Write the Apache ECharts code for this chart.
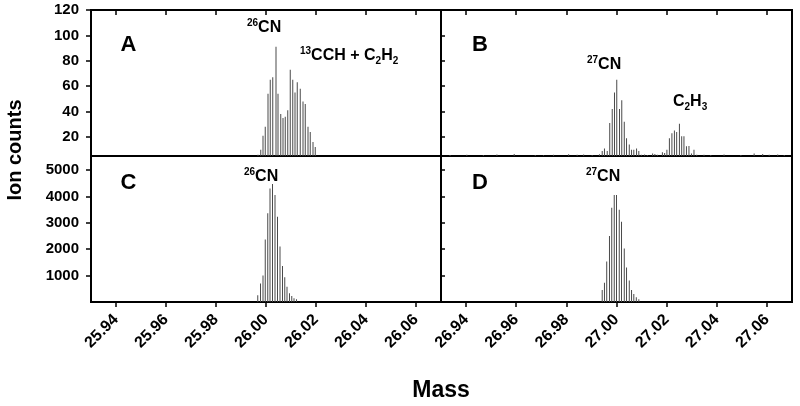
<!DOCTYPE html>
<html><head><meta charset="utf-8">
<script src="https://cdn.jsdelivr.net/npm/echarts@6/dist/echarts.min.js"></script>
<style>html,body{margin:0;padding:0;background:#fff}#c{width:800px;height:406px}</style>
</head><body><div id="c"></div>
<script>
// ---- data ----
const ticksX26 = [25.94, 25.96, 25.98, 26.00, 26.02, 26.04, 26.06];
const ticksX27 = [26.94, 26.96, 26.98, 27.00, 27.02, 27.04, 27.06];
const ticksYTop = [20, 40, 60, 80, 100, 120];
const ticksYBottom = [1000, 2000, 3000, 4000, 5000];

// Panel A: 26CN + 13CCH + C2H2 (low)
const massA = [25.9968, 25.9979, 25.9988, 25.9997, 26.0008, 26.0017, 26.0027, 26.0040, 26.0048, 26.0059, 26.0068, 26.0077,
  26.0087, 26.0097, 26.0107, 26.0116, 26.0125, 26.0137, 26.0148, 26.0157, 26.0168, 26.0177, 26.0188, 26.0197];
const countsA = [6, 10, 21, 28, 54, 65, 67, 91, 54, 38, 35, 36, 41, 73, 65, 55, 63, 58, 48, 46, 28, 24, 16, 12];

// Panel B: 27CN and C2H3 (low) plus baseline noise
const massB_CN = [26.9932, 26.9943, 26.9952, 26.9963, 26.9973, 26.9983, 26.9992, 27.0001, 27.0012, 27.0021, 27.0031, 27.0040,
  27.0051, 27.0060, 27.0069, 27.0080, 27.0089, 27.0099];
const countsB_CN = [6.3, 9, 11, 9, 31, 42, 55, 65, 42, 49, 32, 19, 14, 10, 10, 11, 9, 6];
const massB_C2H3 = [27.0144, 27.0153, 27.0163, 27.0183, 27.0192, 27.0201, 27.0211, 27.0221, 27.0231, 27.0240, 27.0251, 27.0260,
  27.0269, 27.0279, 27.0289, 27.0299, 27.0309, 27.0320];
const countsB_C2H3 = [7, 6.5, 6, 8, 7.4, 10, 19, 23, 25, 24, 30.5, 20.6, 20.6, 12.6, 12.8, 7, 10, 6];
const massB_noise = [26.9336, 26.9403, 26.9469, 26.9523, 26.9592, 26.9676, 26.9709, 26.9749, 26.9809, 26.9843, 26.9869, 26.9903,
  27.0112, 27.0123, 27.0349, 27.0376, 27.0429, 27.0496, 27.0549, 27.0583, 27.0609, 27.0643, 27.0669];
const countsB_noise = [5.8, 6, 5.7, 6.2, 6.5, 5.8, 5.6, 6, 6.3, 5.9, 6.1, 5.7, 6.2, 5.8, 6, 5.7, 6.2, 5.8, 7, 6.5, 6, 6.2, 5.7];

// Panel C: 26CN (high)
const massC = [25.9967, 25.9978, 25.9988, 25.9997, 26.0007, 26.0016, 26.0026, 26.0036, 26.0046, 26.0056, 26.0066, 26.0075,
  26.0084, 26.0094, 26.0103, 26.0112, 26.0122];
const countsC = [260, 700, 1000, 2370, 3360, 4300, 4470, 4050, 3230, 2100, 1360, 940, 580, 330, 230, 140, 100];

// Panel D: 27CN (high)
const massD = [26.9943, 26.9952, 26.9961, 26.9972, 26.9981, 26.9991, 27.0000, 27.0011, 27.0020, 27.0031, 27.0040, 27.0051,
  27.0060, 27.0069, 27.0079, 27.0089];
const countsD = [455, 730, 1530, 2500, 3570, 4050, 4050, 3490, 3040, 2030, 1310, 810, 455, 300, 180, 100];

// ---- chart ----
const FONT = '"Liberation Sans", Arial, sans-serif';
const pairs = (xs, ys) => xs.map((x, i) => [x, ys[i]]);
const dataB = pairs(massB_noise, countsB_noise).concat(pairs(massB_CN, countsB_CN), pairs(massB_C2H3, countsB_C2H3))
  .sort((a, b) => a[0] - b[0]);

const gridStyle = { show: true, borderColor: '#000', borderWidth: 2, backgroundColor: 'transparent' };
const tickLine = { color: '#000', width: 1.5 };

function xAxisCfg(gi, min, max, ticks, bottom) {
  return {
    type: 'value', gridIndex: gi, min: min, max: max,
    position: bottom ? 'bottom' : 'top',
    axisLine: { show: false },
    splitLine: { show: false },
    axisTick: { show: true, inside: !bottom, length: 5, lineStyle: tickLine, customValues: ticks },
    axisLabel: bottom ? {
      show: true, rotate: 45, margin: 15, customValues: ticks,
      formatter: v => Number(v).toFixed(2),
      color: '#000', fontFamily: FONT, fontWeight: 'bold', fontSize: 16
    } : { show: false }
  };
}
function yAxisCfg(gi, min, max, ticks, labels) {
  return {
    type: 'value', gridIndex: gi, min: min, max: max,
    axisLine: { show: false },
    splitLine: { show: false },
    axisTick: { show: true, inside: !labels, length: labels ? 5 : 4, lineStyle: tickLine, customValues: ticks },
    axisLabel: labels ? {
      show: true, margin: 12, customValues: ticks,
      formatter: v => String(Math.round(v)),
      color: '#000', fontFamily: FONT, fontWeight: 'bold', fontSize: 15
    } : { show: false }
  };
}
function barSeries(idx, data) {
  return {
    type: 'bar', xAxisIndex: idx, yAxisIndex: idx, data: data,
    barWidth: 1, itemStyle: { color: '#4a4a4a' }, clip: true, silent: true, animation: false
  };
}

const richStyles = {
  m: { fontFamily: FONT, fontWeight: 'bold', fontSize: 16, lineHeight: 20, fill: '#000', color: '#000' },
  sup: { fontFamily: FONT, fontWeight: 'bold', fontSize: 10, verticalAlign: 'top', fill: '#000', color: '#000' },
  sub: { fontFamily: FONT, fontWeight: 'bold', fontSize: 10, verticalAlign: 'bottom', fill: '#000', color: '#000' }
};
function richText(x, y, text) {
  return {
    type: 'text', x: x, y: y, silent: true,
    style: { text: text, rich: richStyles, textAlign: 'left', textVerticalAlign: 'middle', fill: '#000' }
  };
}
function plainText(x, y, text, size, rot) {
  return {
    type: 'text', x: x, y: y, rotation: rot || 0, silent: true,
    style: { text: text, font: 'bold ' + size + 'px ' + FONT, fill: '#000', textAlign: 'center', textVerticalAlign: 'middle' }
  };
}

const option = {
  animation: false,
  backgroundColor: '#fff',
  grid: [
    Object.assign({ left: 91, top: 10, width: 350, height: 146 }, gridStyle),
    Object.assign({ left: 441, top: 10, width: 351, height: 146 }, gridStyle),
    Object.assign({ left: 91, top: 156, width: 350, height: 146 }, gridStyle),
    Object.assign({ left: 441, top: 156, width: 351, height: 146 }, gridStyle)
  ],
  xAxis: [
    xAxisCfg(0, 25.93, 26.07, ticksX26, false),
    xAxisCfg(1, 26.93, 27.07, ticksX27, false),
    xAxisCfg(2, 25.93, 26.07, ticksX26, true),
    xAxisCfg(3, 26.93, 27.07, ticksX27, true)
  ],
  yAxis: [
    yAxisCfg(0, 5, 120, ticksYTop, true),
    yAxisCfg(1, 5, 120, ticksYTop, false),
    yAxisCfg(2, 0, 5530, ticksYBottom, true),
    yAxisCfg(3, 0, 5530, ticksYBottom, false)
  ],
  series: [
    barSeries(0, pairs(massA, countsA)),
    barSeries(1, dataB),
    barSeries(2, pairs(massC, countsC)),
    barSeries(3, pairs(massD, countsD))
  ],
  graphic: [
    plainText(128.5, 45, 'A', 22),
    plainText(480, 45, 'B', 22),
    plainText(128.5, 183, 'C', 22),
    plainText(480, 183, 'D', 22),
    plainText(15, 150, 'Ion counts', 20, Math.PI / 2),
    plainText(441, 391, 'Mass', 23),
    richText(247, 28, '{sup|26}{m|CN}'),
    richText(300, 56, '{sup|13}{m|CCH + C}{sub|2}{m|H}{sub|2}'),
    richText(587, 65, '{sup|27}{m|CN}'),
    richText(673, 102, '{m|C}{sub|2}{m|H}{sub|3}'),
    richText(244, 177, '{sup|26}{m|CN}'),
    richText(586, 177, '{sup|27}{m|CN}')
  ]
};
const chart = echarts.init(document.getElementById('c'), null, { renderer: 'canvas' });
chart.setOption(option);
</script>
</body></html>
